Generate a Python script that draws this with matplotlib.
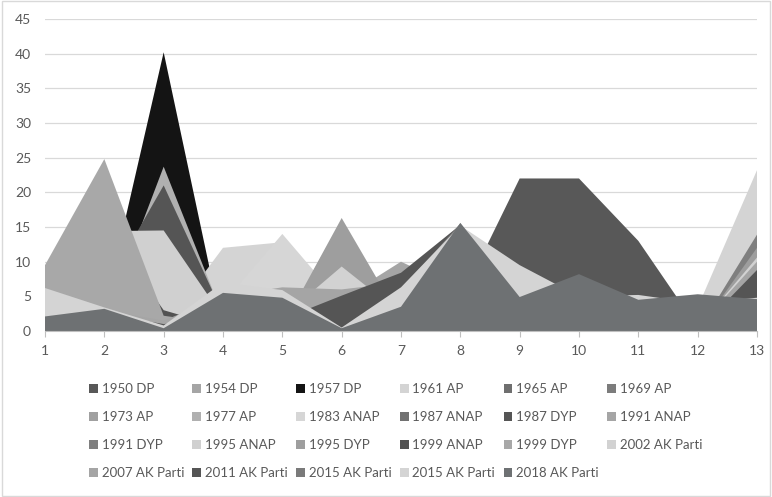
import numpy as np
import matplotlib
matplotlib.use('Agg')
import matplotlib.pyplot as plt
from matplotlib.patches import Patch, Rectangle

plt.rcParams['font.family'] = ['Lato', 'DejaVu Sans']

# regions 1..13 on the x axis, one area per party/election (drawn back to front)
x = np.arange(1, 14)
labels = ['1950 DP', '1954 DP', '1957 DP', '1961 AP', '1965 AP', '1969 AP',
          '1973 AP', '1977 AP', '1983 ANAP', '1987 ANAP', '1987 DYP', '1991 ANAP',
          '1991 DYP', '1995 ANAP', '1995 DYP', '1999 ANAP', '1999 DYP', '2002 AK Parti',
          '2007 AK Parti', '2011 AK Parti', '2015 AK Parti', '2015 AK Parti', '2018 AK Parti']
colors = ['#585858', '#a5a5a5', '#141414', '#d4d4d4', '#6f6f6f', '#7c7c7c',
          '#a0a0a0', '#b0b0b0', '#d6d6d6', '#717171', '#555555', '#a5a5a5',
          '#7f7f7f', '#d0d0d0', '#9e9e9e', '#525252', '#a8a8a8', '#d2d2d2',
          '#a5a5a5', '#555555', '#7a7a7a', '#d4d4d4', '#6e7173']

dp_1950   = [1.0, 1.5, 1.0, 1.0, 1.0, 0.5, 1.0, 4.5, 22.0, 22.0, 13.0, 0.5, 1.0]
dp_1954   = [2.0, 3.0, 1.0, 2.0, 2.0, 0.5, 2.0, 8.0, 3.0, 5.0, 3.0, 3.0, 3.0]
dp_1957   = [0.0, 3.0, 40.2, 0.0, 0.5, 16.0, 1.0, 2.0, 1.0, 1.0, 1.0, 1.0, 1.0]
ap_1961   = [3.0, 2.0, 0.5, 12.0, 12.8, 2.0, 2.0, 6.0, 3.0, 4.0, 3.0, 3.4, 23.2]
ap_1965   = [1.5, 2.0, 1.0, 3.0, 3.0, 0.5, 3.0, 12.0, 3.0, 6.0, 3.0, 3.0, 3.0]
ap_1969   = [2.0, 2.5, 1.0, 4.0, 4.0, 0.5, 3.0, 14.0, 3.0, 6.0, 3.0, 3.0, 3.0]
ap_1973   = [1.0, 2.0, 1.5, 2.0, 3.0, 1.0, 2.0, 10.0, 2.0, 5.0, 2.0, 2.0, 2.0]
ap_1977   = [1.0, 1.2, 23.7, 2.2, 2.0, 1.0, 2.0, 9.0, 2.0, 4.0, 2.0, 2.0, 2.0]
anap_1983 = [2.0, 2.0, 1.0, 4.0, 14.0, 4.0, 2.0, 11.0, 3.0, 5.0, 3.0, 2.0, 2.0]
anap_1987 = [1.5, 2.0, 1.0, 3.0, 3.0, 1.0, 3.0, 13.0, 3.0, 6.0, 3.0, 3.0, 3.0]
dyp_1987  = [1.0, 6.0, 21.0, 2.5, 2.0, 1.0, 2.0, 10.0, 2.0, 4.0, 2.0, 2.0, 2.0]
anap_1991 = [1.0, 2.0, 1.0, 2.0, 2.0, 4.6, 10.0, 6.0, 2.0, 4.0, 2.0, 2.0, 2.0]
dyp_1991  = [1.5, 2.0, 1.0, 2.0, 2.0, 1.0, 3.0, 12.0, 3.0, 5.0, 3.0, 0.0, 13.9]
anap_1995 = [5.0, 14.4, 14.5, 2.0, 2.0, 1.0, 2.0, 10.0, 3.0, 5.0, 3.0, 2.0, 2.0]
dyp_1995  = [1.0, 2.0, 1.0, 1.0, 0.6, 16.3, 1.6, 14.0, 3.0, 5.0, 3.0, 0.0, 12.0]
anap_1999 = [1.0, 15.0, 3.0, 0.5, 1.0, 0.5, 2.0, 12.0, 3.0, 5.0, 3.0, 2.0, 2.0]
dyp_1999  = [9.5, 24.8, 2.2, 1.0, 1.0, 0.5, 2.0, 11.0, 3.0, 5.0, 3.0, 2.0, 2.0]
akp_2002  = [2.0, 2.0, 1.0, 2.0, 2.0, 9.3, 2.5, 13.0, 3.0, 6.0, 3.0, 0.5, 10.6]
akp_2007  = [2.0, 3.0, 1.5, 5.0, 6.3, 6.0, 7.0, 15.0, 4.0, 7.0, 4.0, 0.5, 10.0]
akp_2011  = [1.5, 2.5, 1.0, 2.0, 1.7, 5.1, 8.4, 15.3, 4.0, 6.0, 4.0, 0.0, 8.8]
akp_2015a = [1.5, 2.5, 0.3, 3.0, 3.0, 0.0, 6.0, 15.5, 4.5, 7.5, 4.3, 4.5, 4.5]
akp_2015b = [6.2, 3.4, 0.8, 7.0, 5.9, 0.5, 6.3, 15.2, 9.5, 5.0, 5.2, 4.0, 4.8]
akp_2018  = [2.1, 3.2, 0.4, 5.5, 4.8, 0.4, 3.5, 15.6, 4.9, 8.2, 4.5, 5.3, 4.6]

series = [dp_1950, dp_1954, dp_1957, ap_1961, ap_1965, ap_1969, ap_1973, ap_1977,
          anap_1983, anap_1987, dyp_1987, anap_1991, dyp_1991, anap_1995, dyp_1995,
          anap_1999, dyp_1999, akp_2002, akp_2007, akp_2011, akp_2015a, akp_2015b, akp_2018]

fig = plt.figure(figsize=(7.72, 4.97), dpi=100)
ax = fig.add_axes([45/772, 1 - 331/497, (757-45)/772, (331-19)/497])

for vals, c in zip(series, colors):
    ax.fill_between(x, 0, vals, color=c, linewidth=0, edgecolor='none')

ax.set_xlim(1, 13)
ax.set_ylim(0, 45)
ax.set_xticks(x)
ax.set_yticks(np.arange(0, 46, 5))
ax.grid(axis='y', color='#d9d9d9', lw=0.9)
ax.set_axisbelow(True)
for s in ['top', 'right', 'left']:
    ax.spines[s].set_visible(False)
ax.spines['bottom'].set_color('#bfbfbf')
ax.spines['bottom'].set_zorder(5)
ax.tick_params(axis='y', length=0, pad=10, labelsize=10, labelcolor='#595959')
ax.tick_params(axis='x', length=4, width=0.8, color='#bfbfbf', pad=6,
               labelsize=10, labelcolor='#595959')

# legend laid out row by row, 6 columns
handles = [Patch(facecolor=c, edgecolor='none') for c in colors]
order = [col + 6*row for col in range(6) for row in range(4) if col + 6*row < len(labels)]
ax.legend([handles[i] for i in order], [labels[i] for i in order], ncol=6,
          loc='upper left', bbox_to_anchor=(89/772, 1 - 383/497), bbox_transform=fig.transFigure,
          frameon=False, fontsize=9.5, labelcolor='#595959', handlelength=0.65, handleheight=0.65,
          handletextpad=0.3, columnspacing=0.64, labelspacing=1.22, borderpad=0, borderaxespad=0)

fig.patches.append(Rectangle((0.002, 0.003), 0.995, 0.994, transform=fig.transFigure,
                             fill=False, edgecolor='#d9d9d9', lw=1))

fig.savefig('out.png', dpi=100)
